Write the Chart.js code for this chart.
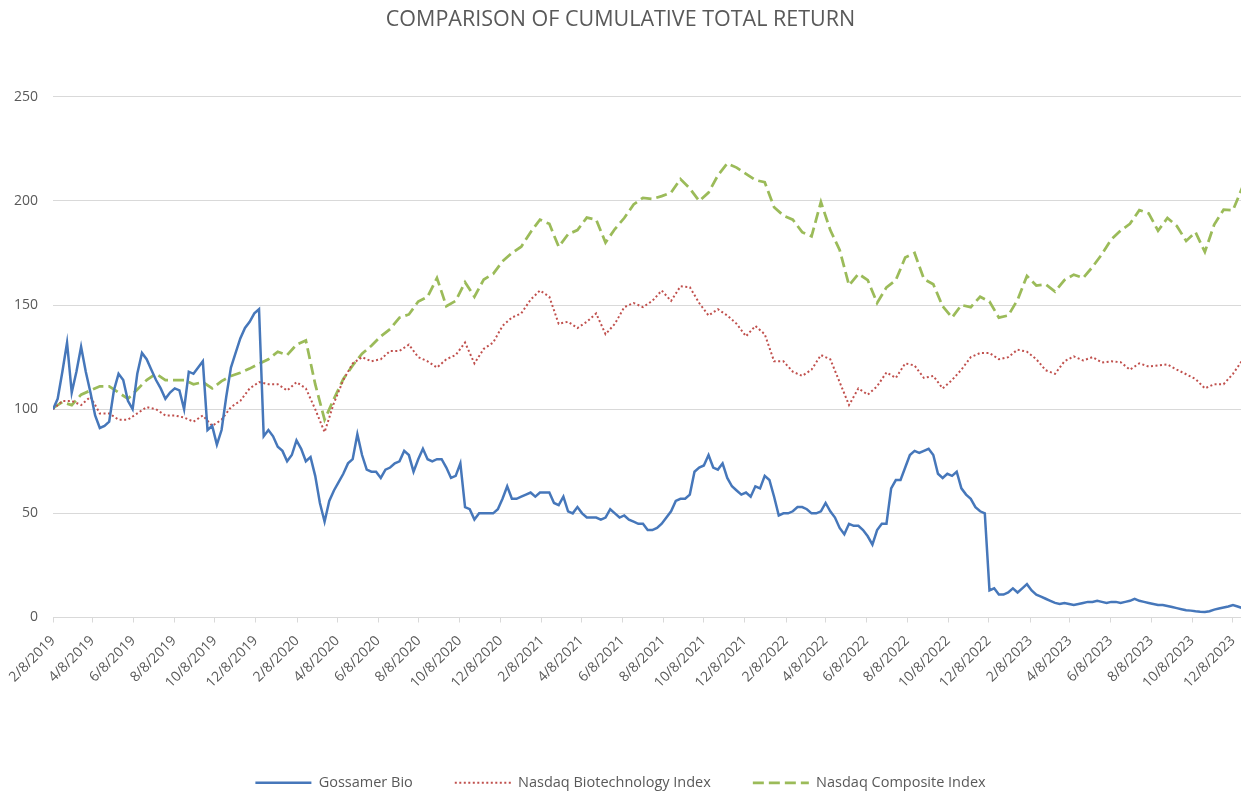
<!DOCTYPE html>
<html>
<head>
<meta charset="utf-8">
<title>Comparison of Cumulative Total Return</title>
<script src="https://cdn.jsdelivr.net/npm/chart.js@4.4.1/dist/chart.umd.min.js"></script>
<style>
  html, body { margin: 0; padding: 0; background: #ffffff; overflow: hidden; }
  #wrap { width: 1241px; height: 791px; }
</style>
</head>
<body>
<div id="wrap"><canvas id="returnChart" width="1241" height="791"></canvas></div>
<script>
// ─── DATA ───────────────────────────────────────────────
// first trading date of the series, all x values are days after it
const startDate = '2/8/2019';
const gossamerStepDays = 7;   // weekly readings
const indexStepDays = 14;     // bi-weekly readings

const tickLabels = [
    '2/8/2019', '4/8/2019', '6/8/2019', '8/8/2019', '10/8/2019', '12/8/2019',
    '2/8/2020', '4/8/2020', '6/8/2020', '8/8/2020', '10/8/2020', '12/8/2020',
    '2/8/2021', '4/8/2021', '6/8/2021', '8/8/2021', '10/8/2021', '12/8/2021',
    '2/8/2022', '4/8/2022', '6/8/2022', '8/8/2022', '10/8/2022', '12/8/2022',
    '2/8/2023', '4/8/2023', '6/8/2023', '8/8/2023', '10/8/2023', '12/8/2023'
];

const gossamerBio = [
    100, 105, 118, 132, 108, 118, 130, 118, 108, 97,
    91, 92, 94, 109, 117, 114, 104, 100, 117, 127,
    124, 119, 114, 110, 105, 108, 110, 109, 100, 118,
    117, 120, 123, 90, 92, 83, 90, 106, 120, 127,
    134, 139, 142, 146, 148, 87, 90, 87, 82, 80,
    75, 78, 85, 81, 75, 77, 68, 55, 46, 56,
    61, 65, 69, 74, 76, 88, 78, 71, 70, 70,
    67, 71, 72, 74, 75, 80, 78, 70, 76, 81,
    76, 75, 76, 76, 72, 67, 68, 74, 53, 52,
    47, 50, 50, 50, 50, 52, 57, 63, 57, 57,
    58, 59, 60, 58, 60, 60, 60, 55, 54, 58,
    51, 50, 53, 50, 48, 48, 48, 47, 48, 52,
    50, 48, 49, 47, 46, 45, 45, 42, 42, 43,
    45, 48, 51, 56, 57, 57, 59, 70, 72, 73,
    78, 72, 71, 74, 67, 63, 61, 59, 60, 58,
    63, 62, 68, 66, 58, 49, 50, 50, 51, 53,
    53, 52, 50, 50, 51, 55, 51, 48, 43, 40,
    45, 44, 44, 42, 39, 35, 42, 45, 45, 62,
    66, 66, 72, 78, 80, 79, 80, 81, 78, 69,
    67, 69, 68, 70, 62, 59, 57, 53, 51, 50,
    13, 14, 11, 11, 12, 14, 12, 14, 16, 13,
    11, 10, 9, 8, 7, 6.5, 7, 6.5, 6, 6.5,
    7, 7.5, 7.5, 8, 7.5, 7, 7.5, 7.5, 7, 7.5,
    8, 9, 8, 7.5, 7, 6.5, 6, 6, 5.5, 5,
    4.5, 4, 3.5, 3.3, 3, 2.8, 2.7, 3, 3.8, 4.3,
    4.8, 5.3, 6, 5.3, 4.5
];

const nasdaqBiotech = [
    100, 104, 104, 102, 106, 98, 98, 95, 95, 98,
    101, 100, 97, 97, 96, 94, 97, 92, 95, 101,
    104, 110, 113, 112, 112, 109, 113, 110, 100, 89,
    103, 114, 122, 125, 123, 124, 128, 128, 131, 125,
    123, 120, 124, 126, 132, 122, 129, 132, 140, 144,
    146, 152.6, 157, 154, 141, 142, 139, 142, 146, 136,
    141, 149, 151, 149, 152, 157, 152, 159, 158.6, 151,
    145, 148, 145, 141, 135, 140, 136, 123, 123, 118,
    116, 119, 126, 124, 113, 102, 110, 107, 111, 117.7,
    115, 122, 121, 115, 116, 110, 114, 119, 125, 127,
    127, 124, 125, 128.6, 127.6, 124, 118.7, 117, 123, 125.4,
    123.4, 125, 122.4, 123, 122.6, 119, 122, 120.5, 121, 121.5,
    119, 116.8, 114.5, 110, 112, 112, 117, 123.5
];

const nasdaqComposite = [
    100.5, 103.4, 102, 107, 109, 111, 111, 108, 105, 109.5,
    114, 117, 114, 114, 114, 112, 113, 110, 113.5, 116,
    117.5, 119.5, 121.8, 124, 127.6, 126, 131, 133, 112, 95,
    105, 114.5, 121, 126.7, 130.5, 135, 138.5, 144, 145.5, 151.7,
    154, 163, 149.5, 152, 161, 154, 162.3, 165, 171, 175,
    178, 185, 191, 189, 178, 184, 186, 192, 191, 180,
    186.5, 191.8, 198.3, 201.5, 201, 202.3, 204, 210.5, 206, 200,
    204, 212.3, 218, 216, 213, 210, 209, 197, 193, 191,
    185, 183, 199.5, 186, 176.5, 159.5, 165, 162, 151, 158.5,
    162, 172.8, 175, 162.5, 160, 149.4, 144, 150, 149, 154,
    151.7, 144, 145, 152.5, 164, 159.4, 160, 156.5, 162, 164.6,
    163, 168.3, 174.4, 181.5, 185.8, 189, 195.6, 194, 185.7, 191.8,
    188, 180.8, 185, 175.5, 188.7, 195.8, 195.5, 206.5
];

// ─── HELPERS ────────────────────────────────────────────
function toUTC(label) {
    const [m, d, y] = label.split('/').map(Number);
    return Date.UTC(y, m - 1, d);
}
const dayOffset = (label) => (toUTC(label) - toUTC(startDate)) / 86400000;
const toPoints = (values, step) => values.map((v, i) => ({ x: i * step, y: v }));

const GREY_TEXT = '#595959';
const GRID = '#d9d9d9';
const FONT = "'Open Sans', 'DejaVu Sans', sans-serif";

// legend items built from the point style lose the dataset dash, put it back
function legendLabels(chart) {
    const items = Chart.defaults.plugins.legend.labels.generateLabels(chart);
    return items.map(item => {
        const ds = chart.data.datasets[item.datasetIndex];
        return {
            ...item,
            strokeStyle: ds.borderColor,
            lineWidth: ds.borderWidth,
            lineDash: ds.borderDash || []
        };
    });
}

// ─── CHART ──────────────────────────────────────────────
new Chart(document.getElementById('returnChart'), {
    type: 'line',
    data: {
        datasets: [
            {
                label: 'Gossamer Bio',
                data: toPoints(gossamerBio, gossamerStepDays),
                borderColor: '#4677ba',
                borderWidth: 2.5,
                pointRadius: 0,
                tension: 0
            },
            {
                label: 'Nasdaq Biotechnology Index',
                data: toPoints(nasdaqBiotech, indexStepDays),
                borderColor: '#c0504d',
                borderWidth: 2,
                borderDash: [2, 2.5],
                pointRadius: 0,
                tension: 0
            },
            {
                label: 'Nasdaq Composite Index',
                data: toPoints(nasdaqComposite, indexStepDays),
                borderColor: '#9bbb59',
                borderWidth: 2.75,
                borderDash: [11, 5],
                pointRadius: 0,
                tension: 0
            }
        ]
    },
    options: {
        responsive: false,
        animation: false,
        devicePixelRatio: 1,
        layout: { padding: { left: 0, right: 0, top: 0, bottom: -9 } },
        plugins: {
            title: {
                display: true,
                text: 'COMPARISON OF CUMULATIVE TOTAL RETURN',
                color: GREY_TEXT,
                font: { family: FONT, size: 21.5, weight: 'normal' },
                padding: { top: 7, bottom: 64 }
            },
            legend: {
                position: 'bottom',
                labels: {
                    usePointStyle: true,
                    pointStyle: 'line',
                    pointStyleWidth: 56,
                    color: GREY_TEXT,
                    font: { family: FONT, size: 14.5 },
                    padding: 42,
                    generateLabels: legendLabels
                }
            },
            tooltip: { enabled: false }
        },
        scales: {
            x: {
                type: 'linear',
                min: 0,
                max: 1776,
                afterBuildTicks: (scale) => {
                    scale.ticks = tickLabels.map(l => ({ value: dayOffset(l) }));
                },
                afterFit: (scale) => {
                    // plot runs to the right edge like the original, rotated labels hang left
                    scale.height = 116;
                    scale.paddingLeft = 0;
                    scale.paddingRight = 0;
                },
                grid: { drawOnChartArea: false, drawTicks: true, tickLength: 5, color: GRID },
                border: { display: true, color: GRID },
                ticks: {
                    autoSkip: false,
                    minRotation: 45,
                    maxRotation: 45,
                    padding: 10,
                    color: GREY_TEXT,
                    font: { family: FONT, size: 14 },
                    callback: (value, index) => tickLabels[index]
                }
            },
            y: {
                min: 0,
                max: 250,
                afterFit: (scale) => { scale.width = 53; },
                grid: { color: GRID, drawTicks: false },
                border: { display: false },
                ticks: {
                    stepSize: 50,
                    padding: 15,
                    color: GREY_TEXT,
                    font: { family: FONT, size: 14 }
                }
            }
        }
    }
});
</script>
</body>
</html>
